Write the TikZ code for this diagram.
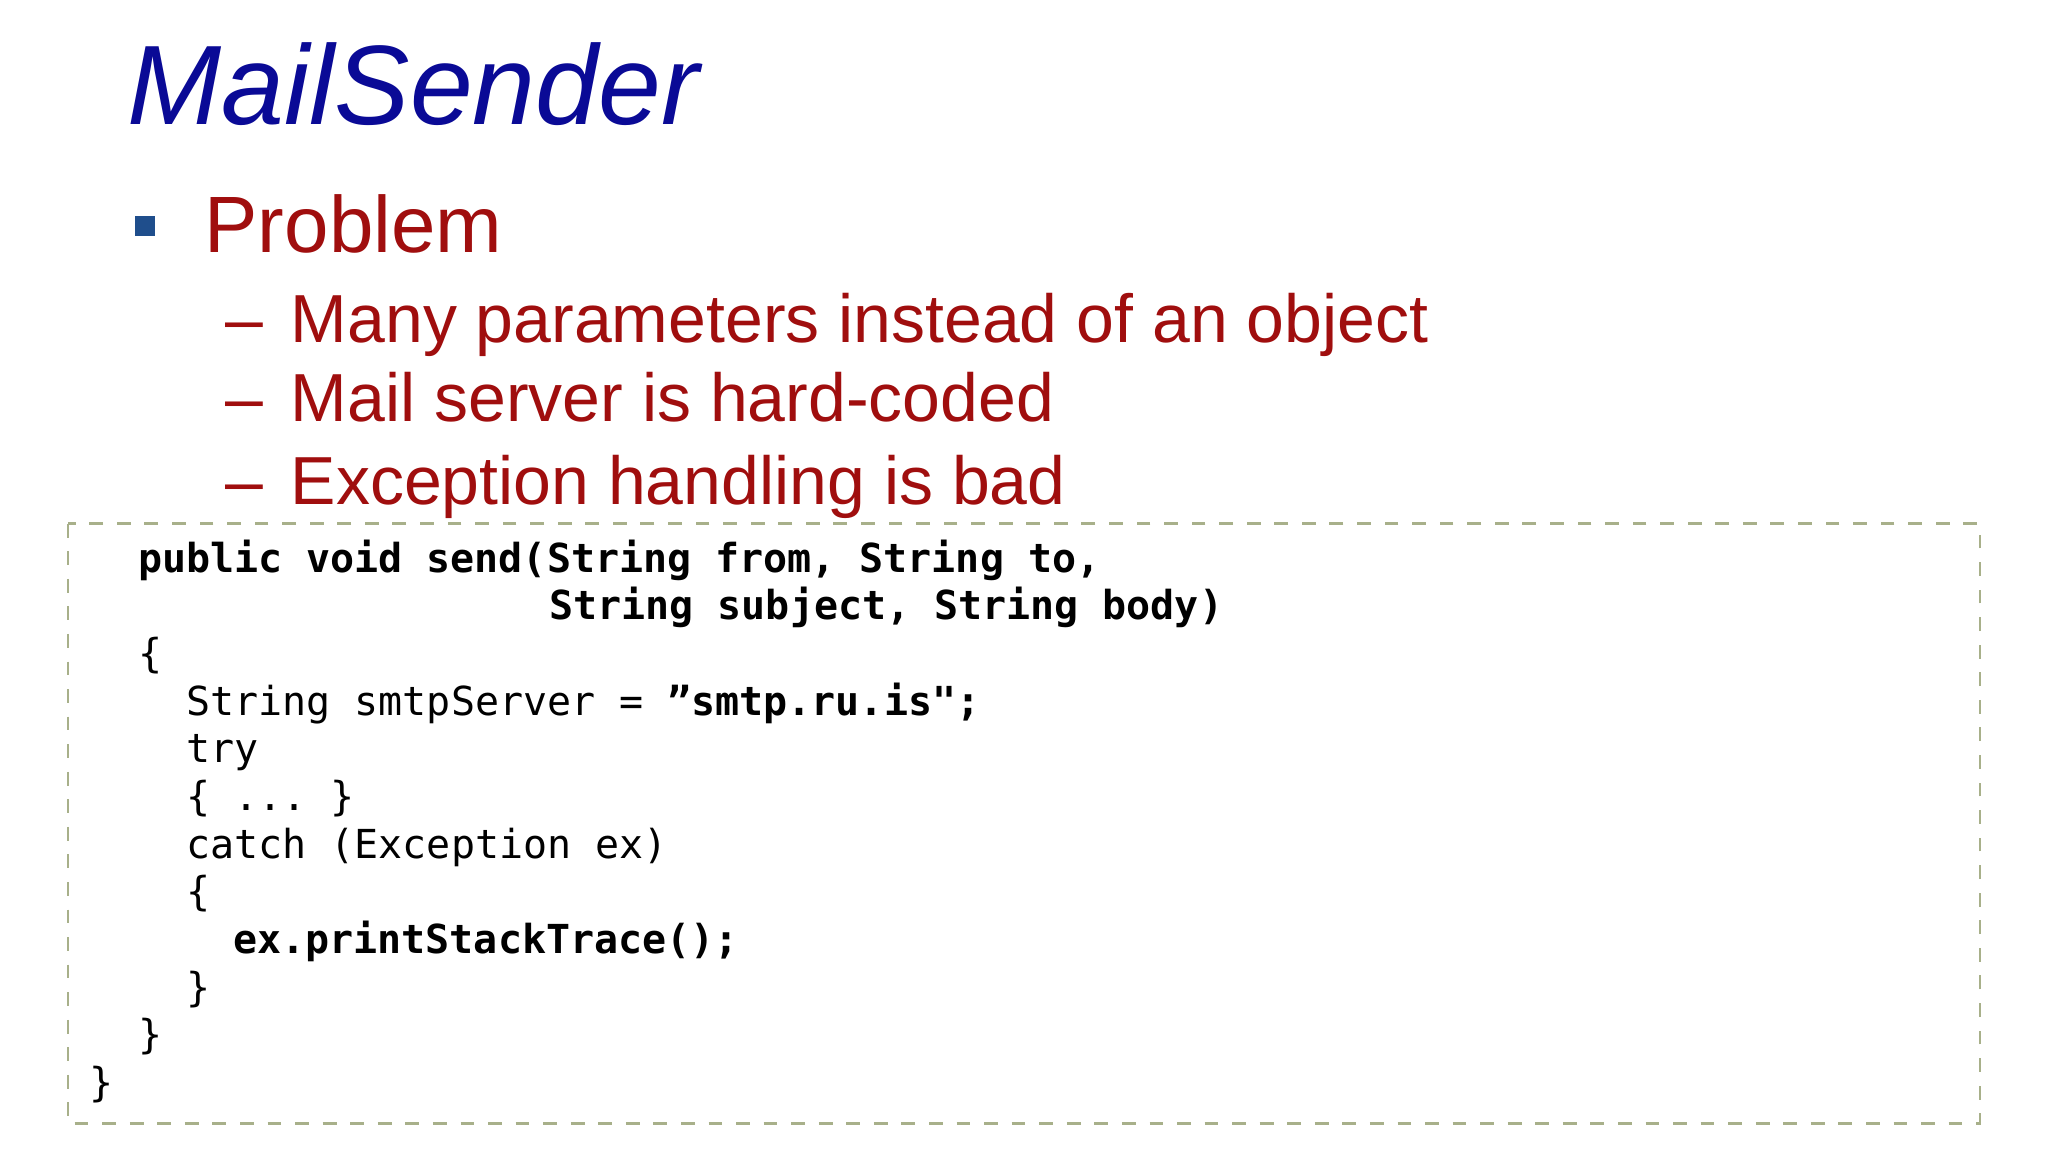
\documentclass[tikz,border=0pt]{standalone}
\usepackage{fontspec}
\setmainfont{Liberation Sans}
\setmonofont{DejaVu Sans Mono}
\definecolor{titleblue}{HTML}{0A0A96}
\definecolor{probred}{HTML}{A00E0E}
\definecolor{bulletblue}{HTML}{1F4E8C}
\definecolor{boxgreen}{HTML}{A8B08A}
\begin{document}
\begin{tikzpicture}[x=0.01cm,y=-0.01cm,
  txt/.style={anchor=base west,inner sep=0pt},
  sub/.style={txt,text=probred,font=\fontsize{14.8}{16}\selectfont},
  code/.style={txt,font=\ttfamily\fontsize{8.7}{10}\selectfont}]
\useasboundingbox[fill=white] (0,0) rectangle (1568,882);
\node[txt,text=titleblue,font=\itshape\fontsize{24.6}{27}\selectfont] (title) at (97,95) {MailSender};
\fill[bulletblue] (103,165) rectangle (119,181);
\node[txt,text=probred,font=\fontsize{17.4}{20}\selectfont] (prob) at (156,193) {Problem};
\node[sub] (d1) at (172,262) {–}; \node[sub] (s1) at (222,262) {Many parameters instead of an object};
\node[sub] (d2) at (172,323) {–}; \node[sub] (s2) at (222,323) {Mail server is hard-coded};
\node[sub] (d3) at (172,386) {–}; \node[sub] (s3) at (222,386) {Exception handling is bad};
\draw[boxgreen,dashed,line width=0.6pt] (52,401) rectangle (1516,860);
\node[code] (c1) at (105,438) {\bfseries public void send(String from, String to,};
\node[code] (c2) at (420,474.5) {\bfseries String subject, String body)};
\node[code] (c3) at (105,511) {\{};
\node[code] (c4) at (142,547.5) {String smtpServer = {\bfseries ”smtp.ru.is";}};
\node[code] (c5) at (142,584) {try};
\node[code] (c6) at (142,620.5) {\{ ... \}};
\node[code] (c7) at (142,657) {catch (Exception ex)};
\node[code] (c8) at (142,693.5) {\{};
\node[code] (c9) at (178,730) {\bfseries ex.printStackTrace();};
\node[code] (c10) at (142,766.5) {\}};
\node[code] (c11) at (105,803) {\}};
\node[code] (c12) at (68,839.5) {\}};
\end{tikzpicture}
\end{document}
